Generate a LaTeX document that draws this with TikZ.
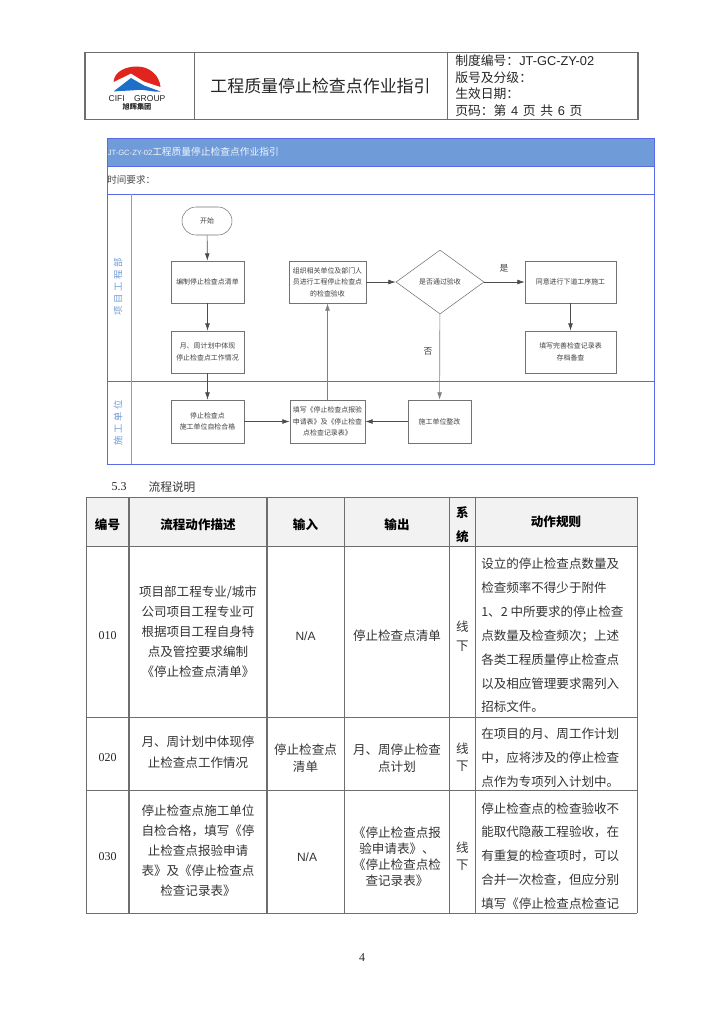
\documentclass[tikz,border=0pt]{standalone}
\usepackage{fontspec}
\setmainfont{Noto Sans CJK SC}
\newfontfamily\latinsans{Liberation Sans}
\newfontfamily\latinserif{Liberation Serif}
\newfontfamily\lanefont[LetterSpace=30]{Noto Sans CJK SC}
\usetikzlibrary{arrows.meta,shapes.geometric}
\def\px{0.75pt}
\definecolor{framegray}{HTML}{6E6E6E}
\definecolor{laneblue}{HTML}{5A68EA}
\definecolor{bannerblue}{HTML}{6F9BD9}
\definecolor{headgray}{HTML}{F2F2F2}
\definecolor{logored}{HTML}{E0261C}
\definecolor{logoblue}{HTML}{1E6FC8}
\tikzset{
    flowbox/.style 2 args={draw=black!55,fill=white,minimum width=#1*\px,minimum height=#2*\px,
        inner sep=0pt,align=center,text=black!75,font=\fontsize{5.2}{8.6}\selectfont},
    startbox/.style={flowbox={50}{28},rounded corners=14*\px},
    passbox/.style={draw=black!55,diamond,aspect=1.375,minimum width=88*\px,minimum height=64*\px,
        inner sep=0pt,text=black!75,font=\fontsize{5.2}{8.6}\selectfont},
    flowline/.style={draw=black!70,line width=0.5pt,-{Latex[length=5.5pt,width=3.6pt]}},
    lanelabel/.style={rotate=90,text=bannerblue,font=\lanefont\fontsize{7}{8}\selectfont},
    tablecell/.style={align=center,inner sep=0pt,text=black!80,font=\fontsize{9.4}{#1}\selectfont},
    tablehead/.style={align=center,inner sep=0pt,text=black,font=\bfseries\fontsize{9.4}{18}\selectfont},
    rulecell/.style={anchor=west,align=left,inner sep=0pt,text=black!80,font=\fontsize{9.4}{17.9}\selectfont},
    infoline/.style={anchor=west,inner sep=0pt,text=black!85,font=\fontsize{9.6}{12}\selectfont},
    plainsans/.style={inner sep=0pt,text=black!80,font=\latinsans\fontsize{9}{12}\selectfont},
    plainserif/.style={inner sep=0pt,text=black!85,font=\latinserif\fontsize{9}{12}\selectfont},
}

\begin{document}
\begin{tikzpicture}[x=0.75pt,y=-0.75pt]
    \useasboundingbox (0,0) rectangle (724,1024);

    \draw[framegray,line width=0.8pt] (85,52.5) rectangle (638,119.5);
    \draw[framegray,line width=0.6pt] (194.5,52.5) -- (194.5,119.5);
    \draw[framegray,line width=0.6pt] (447,52.5) -- (447,119.5);

    \fill[logored] (113.5,82)
        to[out=85,in=180] (137,66.5)
        to[out=0,in=95] (160.5,87)
        -- (144,81.5) -- (131,73.5) -- cycle;
    \fill[logoblue] (113.5,91.5)
        -- (131,78) -- (144,85.5) -- (160.5,91.5)
        to[out=185,in=5] (137,90)
        to[out=185,in=5] cycle;
    \node (logoname) at (137,99) [inner sep=0pt,text=black!85,font=\latinsans\fontsize{6.4}{7}\selectfont] {CIFI\hspace{7pt}GROUP};
    \node (logocn) at (137,106.5) [inner sep=0pt,text=black!85,font=\bfseries\fontsize{5.4}{6}\selectfont] {旭辉集团};

    \node (doctitle) at (320.5,86) [inner sep=0pt,text=black!85,font=\fontsize{12.7}{14}\selectfont] {工程质量停止检查点作业指引};
    \node (infoa) at (455,61) [infoline] {制度编号：{\latinsans JT-GC-ZY-02}};
    \node (infob) at (455,77.5) [infoline] {版号及分级：};
    \node (infoc) at (455,94) [infoline] {生效日期：};
    \node (infod) at (455,111) [infoline] {页码：第\hspace{3.5pt}{\latinsans 4}\hspace{3.5pt}页\hspace{3.5pt}共\hspace{3.5pt}{\latinsans 6}\hspace{3.5pt}页};

    \fill[bannerblue] (107,138) rectangle (654,166);
    \draw[laneblue,line width=0.6pt] (107,138) rectangle (654,464);
    \draw[laneblue,line width=0.6pt] (107,166) -- (654,166);
    \draw[laneblue,line width=0.6pt] (107,194) -- (654,194);
    \draw[laneblue,line width=0.6pt] (107,381) -- (654,381);
    \draw[laneblue!70,line width=0.5pt] (131.5,194) -- (131.5,464);

    \node (banner) at (107.5,152) [anchor=west,inner sep=0pt,text=white!90!bannerblue,font=\fontsize{7.3}{9}\selectfont] {{\latinsans\fontsize{5.7}{9}\selectfont JT-GC-ZY-02}工程质量停止检查点作业指引};
    \node (timelabel) at (107,180) [anchor=west,inner sep=0pt,text=black!70,font=\fontsize{7.2}{9}\selectfont] {时间要求：};
    \node (lanea) at (118,287) [lanelabel] {项目工程部};
    \node (laneb) at (118,423) [lanelabel] {施工单位};

    \node (start) at (207,221) [startbox] {开始};
    \node (checklist) at (207.5,282) [flowbox={73}{42}] {编制停止检查点清单};
    \node (monthplan) at (207.5,352) [flowbox={73}{42}] {月、周计划中体现\\停止检查点工作情况};
    \node (selfcheck) at (207.5,421.5) [flowbox={73}{43}] {停止检查点\\施工单位自检合格};
    \node (organize) at (327.5,282) [flowbox={77}{42}] {组织相关单位及部门人\\员进行工程停止检查点\\的检查验收};
    \node (report) at (327.5,421.5) [flowbox={75}{43}] {填写《停止检查点报验\\申请表》及《停止检查\\点检查记录表》};
    \node (passed) at (440,282) [passbox] {是否通过验收};
    \node (nextstep) at (570.5,282) [flowbox={91}{42}] {同意进行下道工序施工};
    \node (archive) at (570.5,352) [flowbox={91}{42}] {填写完善检查记录表\\存档备查};
    \node (rework) at (439.5,421.5) [flowbox={63}{43}] {施工单位整改};
    \node (yeslabel) at (504,268) [inner sep=0pt,text=black!75,font=\fontsize{6.6}{9}\selectfont] {是};
    \node (nolabel) at (428,351) [inner sep=0pt,text=black!75,font=\fontsize{6.6}{9}\selectfont] {否};

    \draw[flowline] (start) -- (checklist);
    \draw[flowline] (checklist) -- (monthplan);
    \draw[flowline] (monthplan) -- (selfcheck);
    \draw[flowline] (selfcheck) -- (report);
    \draw[flowline,draw=black!50] (report) -- (organize);
    \draw[flowline] (organize) -- (passed);
    \draw[flowline] (passed) -- (nextstep);
    \draw[flowline] (nextstep) -- (archive);
    \draw[flowline,draw=black!50] (passed) -- (rework);
    \draw[flowline] (rework) -- (report);

    \node (sectionno) at (119,487) [plainserif] {5.3};
    \node (sectionname) at (172,487) [inner sep=0pt,text=black!80,font=\fontsize{8.8}{12}\selectfont] {流程说明};

    \fill[headgray] (86,497) rectangle (637,546);
    \draw[framegray,line width=0.7pt] (86,497) -- (637,497);
    \foreach \rowy in {546,717.5,790,913}
        \draw[framegray,line width=0.7pt] (86,\rowy) -- (637,\rowy);
    \foreach \colx in {86,344,449.5,475,637}
        \draw[framegray,line width=0.7pt] (\colx,497) -- (\colx,913);
    \foreach \colx in {129,267}
        \draw[framegray,line width=1pt] (\colx,497) -- (\colx,913);

    \node (headno) at (107.5,525) [tablehead] {编号};
    \node (headdesc) at (198,525) [tablehead] {流程动作描述};
    \node (headin) at (305.5,525) [tablehead] {输入};
    \node (headout) at (397,525) [tablehead] {输出};
    \node (headsys) at (462.5,525) [tablehead] {系\\统};
    \node (headrule) at (556,522) [tablehead] {动作规则};

    \node (noa) at (107.5,636) [plainserif] {010};
    \node (desca) at (198,632) [tablecell=15] {项目部工程专业/城市\\公司项目工程专业可\\根据项目工程自身特\\点及管控要求编制\\《停止检查点清单》};
    \node (ina) at (305.5,636) [plainsans] {N/A};
    \node (outa) at (397,636) [tablecell=15] {停止检查点清单};
    \node (sysa) at (462.5,636.5) [tablecell=14.5] {线\\下};
    \node (rulea) at (481,635.5) [rulecell] {设立的停止检查点数量及\\检查频率不得少于附件\\1、2 中所要求的停止检查\\点数量及检查频次；上述\\各类工程质量停止检查点\\以及相应管理要求需列入\\招标文件。};

    \node (nob) at (107.5,758) [plainserif] {020};
    \node (descb) at (198,752.5) [tablecell=15.5] {月、周计划中体现停\\止检查点工作情况};
    \node (inb) at (305.5,758) [tablecell=12.5] {停止检查点\\清单};
    \node (outb) at (397,758) [tablecell=12.5] {月、周停止检查\\点计划};
    \node (sysb) at (462.5,757.5) [tablecell=12.5] {线\\下};
    \node (ruleb) at (481,757.5) [rulecell] {在项目的月、周工作计划\\中，应将涉及的停止检查\\点作为专项列入计划中。};

    \node (noc) at (107.5,857) [plainserif] {030};
    \node (descc) at (198,851) [tablecell=15] {停止检查点施工单位\\自检合格，填写《停\\止检查点报验申请\\表》及《停止检查点\\检查记录表》};
    \node (inc) at (307,857) [plainsans] {N/A};
    \node (outc) at (397,856.5) [tablecell=12] {《停止检查点报\\验申请表》、\\《停止检查点检\\查记录表》};
    \node (sysc) at (462.5,856.5) [tablecell=12.5] {线\\下};
    \node (rulec) at (481,856) [rulecell] {停止检查点的检查验收不\\能取代隐蔽工程验收，在\\有重复的检查项时，可以\\合并一次检查，但应分别\\填写《停止检查点检查记};

    \node (pageno) at (362,958) [plainserif] {4};
\end{tikzpicture}
\end{document}
